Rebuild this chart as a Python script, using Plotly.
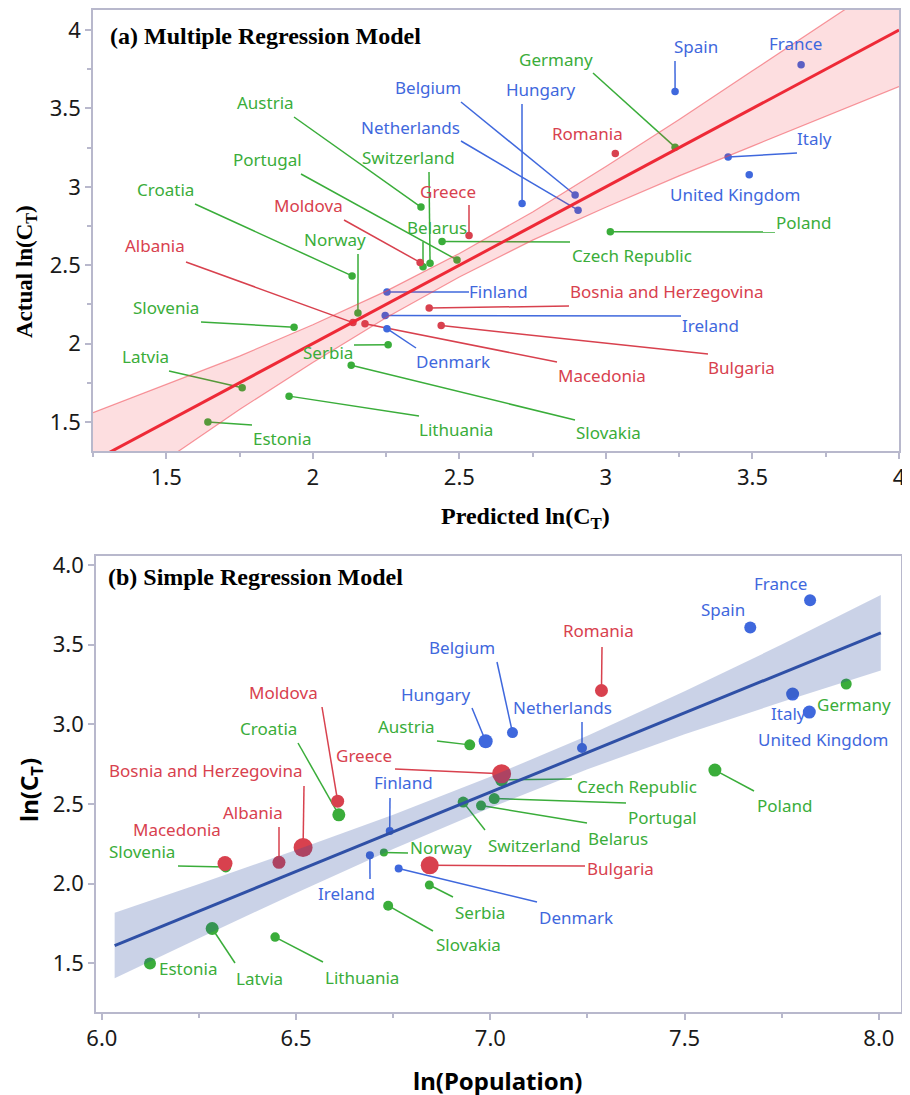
import plotly.graph_objects as go

W, H = 910, 1095
OFF = 8  # page body margin of the html page

# ---------------- data ----------------
countries = ["France", "Spain", "Germany", "Romania", "Italy", "United Kingdom",
             "Belgium", "Hungary", "Netherlands", "Poland", "Greece", "Austria",
             "Czech Republic", "Portugal", "Moldova", "Switzerland", "Belarus",
             "Norway", "Croatia", "Finland", "Bosnia and Herzegovina", "Ireland",
             "Albania", "Macedonia", "Bulgaria", "Denmark", "Serbia", "Slovenia",
             "Slovakia", "Latvia", "Lithuania", "Estonia"]
groups = ["B", "B", "G", "R", "B", "B",
          "B", "B", "B", "G", "R", "G",
          "G", "G", "R", "G", "G",
          "G", "G", "B", "R", "B",
          "R", "R", "R", "B", "G", "G",
          "G", "G", "G", "G"]
# panel (a): predicted ln(C_T)
predicted = [3.666, 3.236, 3.236, 3.032, 3.417, 3.489,
             2.895, 2.714, 2.905, 3.015, 2.533, 2.369,
             2.441, 2.492, 2.366, 2.400, 2.376,
             2.154, 2.134, 2.253, 2.397, 2.247,
             2.137, 2.178, 2.438, 2.253, 2.257, 1.936,
             2.131, 1.759, 1.919, 1.642]
# actual ln(C_T) (both panels)
ln_ct = [3.779, 3.608, 3.253, 3.212, 3.190, 3.077,
         2.948, 2.894, 2.851, 2.713, 2.690, 2.871,
         2.652, 2.534, 2.518, 2.512, 2.490,
         2.195, 2.432, 2.330, 2.227, 2.179,
         2.134, 2.127, 2.115, 2.095, 1.992, 2.105,
         1.862, 1.719, 1.665, 1.500]
# panel (b): ln(Population)
ln_pop = [7.823, 7.669, 7.916, 7.286, 7.778, 7.821,
          7.057, 6.988, 7.236, 7.578, 7.029, 6.947,
          7.029, 7.010, 6.607, 6.930, 6.976,
          6.726, 6.610, 6.741, 6.518, 6.690,
          6.456, 6.317, 6.844, 6.764, 6.843, 6.319,
          6.737, 6.284, 6.446, 6.124]
# bubble size variable in panel (b)
bubble = [12, 12, 11, 13, 13, 13,
          11, 14, 10, 13, 19, 11,
          13, 11, 13, 11, 10,
          8, 13, 8, 19, 8,
          13, 15, 18, 8, 9, 11,
          10, 13, 9.5, 12]

# fitted line + confidence band, panel (a)
fit_a_x = [1.25, 1.5, 1.75, 2.0, 2.25, 2.5, 2.75, 3.0, 3.25, 3.5, 3.75, 4.0]
fit_a_y = [1.25, 1.5, 1.75, 2.0, 2.25, 2.5, 2.75, 3.0, 3.25, 3.5, 3.75, 4.0]
fit_a_lo = [0.94, 1.26, 1.58, 1.88, 2.165, 2.425, 2.66, 2.87, 3.07, 3.26, 3.45, 3.64]
fit_a_hi = [1.56, 1.74, 1.92, 2.12, 2.335, 2.575, 2.84, 3.13, 3.43, 3.74, 4.05, 4.36]

# fitted line + confidence band, panel (b)
fit_b_x = [6.033, 6.25, 6.5, 6.75, 7.0, 7.25, 7.5, 7.75, 8.005]
fit_b_y = [1.612, 1.828, 2.077, 2.325, 2.574, 2.823, 3.072, 3.320, 3.574]
fit_b_lo = [1.406, 1.658, 1.942, 2.217, 2.477, 2.718, 2.937, 3.140, 3.337]
fit_b_hi = [1.818, 1.998, 2.212, 2.433, 2.671, 2.928, 3.207, 3.500, 3.811]

# ---------------- layout / styles ----------------
COL = {"B": "#3f68dd", "G": "#3aad3a", "R": "#d8414e"}
AXCOL = "#b8b8cc"
LABEL_FONT = "Noto Sans"
LABEL_SIZE = 17

PANEL_A = dict(L=93, R=899, T=10, B=451, x=(1.25, 4.0), y=(1.315, 4.128))
PANEL_B = dict(L=96, R=901, T=556, B=1012, x=(5.985, 8.057), y=(1.195, 4.056))

# label placement (screen pixels): text centre, leader-line end
LABELS_A = {
    "Spain": ((696, 47), (675, 61)),
    "France": ((795, 44), None),
    "Germany": ((556, 60), (593, 73)),
    "Belgium": ((428, 88), (461, 102)),
    "Hungary": ((541, 90), (522, 104)),
    "Netherlands": ((410, 128), (461, 141)),
    "Romania": ((587, 134), None),
    "Italy": ((814, 139), (797, 153)),
    "United Kingdom": ((735, 195), None),
    "Poland": ((803, 223), (775, 232)),
    "Austria": ((265, 103), (294, 117)),
    "Switzerland": ((408, 158), (429, 172)),
    "Portugal": ((267, 160), (301, 174)),
    "Greece": ((448, 192), (469, 205)),
    "Croatia": ((165, 190), (195, 204)),
    "Moldova": ((308, 206), (344, 220)),
    "Belarus": ((437, 228), (423, 242)),
    "Czech Republic": ((632, 256), (570, 242)),
    "Norway": ((335, 240), (358, 254)),
    "Albania": ((155, 246), (186, 262)),
    "Finland": ((498, 292), (469, 292)),
    "Bosnia and Herzegovina": ((667, 292), (569, 306)),
    "Ireland": ((710, 326), (681, 316)),
    "Bulgaria": ((741, 368), (708, 354)),
    "Macedonia": ((602, 376), (557, 362)),
    "Denmark": ((453, 362), (416, 348)),
    "Slovenia": ((166, 308), (201, 322)),
    "Serbia": ((328, 353), (354, 345)),
    "Latvia": ((145, 357), (169, 371)),
    "Slovakia": ((608, 433), (575, 420)),
    "Lithuania": ((456, 430), (419, 416)),
    "Estonia": ((282, 439), (252, 425)),
}
LABELS_B = {
    "France": ((780, 583), None),
    "Spain": ((723, 609), None),
    "Romania": ((598, 630), (602, 647)),
    "Belgium": ((462, 647), (497, 662)),
    "Netherlands": ((562, 707), (582, 722)),
    "Hungary": ((436, 694), (472, 708)),
    "Austria": ((406, 726), (437, 741)),
    "Greece": ((364, 755), (395, 769)),
    "Italy": ((788, 713), None),
    "Germany": ((854, 704), None),
    "United Kingdom": ((823, 739), None),
    "Czech Republic": ((637, 786), (572, 779)),
    "Poland": ((784, 805), (754, 791)),
    "Portugal": ((662, 817), (626, 803)),
    "Belarus": ((618, 838), (587, 823)),
    "Switzerland": ((534, 845), (485, 830)),
    "Norway": ((441, 847), (408, 853)),
    "Finland": ((403, 782), (390, 798)),
    "Ireland": ((346, 893), (370, 879)),
    "Bulgaria": ((620, 868), (585, 866)),
    "Denmark": ((576, 917), (537, 902)),
    "Serbia": ((480, 912), (453, 897)),
    "Slovakia": ((468, 944), (433, 931)),
    "Lithuania": ((362, 977), (323, 962)),
    "Latvia": ((259, 978), (235, 963)),
    "Estonia": ((188, 968), None),
    "Slovenia": ((142, 851), (178, 866)),
    "Macedonia": ((177, 829), None),
    "Albania": ((253, 812), (279, 827)),
    "Bosnia and Herzegovina": ((206, 770), (304, 786)),
    "Moldova": ((283, 692), (322, 707)),
    "Croatia": ((268, 728), (298, 743)),
}


def px2data(p, px, py):
    x0, x1 = p["x"]
    y0, y1 = p["y"]
    return (x0 + (px - p["L"]) / (p["R"] - p["L"]) * (x1 - x0),
            y1 - (py - p["T"]) / (p["B"] - p["T"]) * (y1 - y0))


def paper_x(px):
    return (px - OFF) / W


def paper_y(py):
    return 1 - (py - OFF) / H


fig = go.Figure()


def add_panel(xs, ys, labels, panel, xa, ya, sizes, fx, fy, flo, fhi,
              line_col, band_fill, band_edge):
    # leader lines
    for g in ["B", "G", "R"]:
        lx, ly = [], []
        for c, gg, x, y in zip(countries, groups, xs, ys):
            if gg != g:
                continue
            end = labels[c][1]
            if end is None:
                continue
            ex, ey = px2data(panel, *end)
            lx += [x, ex, None]
            ly += [y, ey, None]
        fig.add_trace(go.Scatter(x=lx, y=ly, mode="lines", xaxis=xa, yaxis=ya,
                                 line=dict(color=COL[g], width=1.5),
                                 hoverinfo="skip", showlegend=False))
    # points
    for g in ["B", "G", "R"]:
        idx = [i for i, gg in enumerate(groups) if gg == g]
        fig.add_trace(go.Scatter(
            x=[xs[i] for i in idx], y=[ys[i] for i in idx],
            mode="markers", xaxis=xa, yaxis=ya,
            marker=dict(color=COL[g],
                        size=[sizes[i] for i in idx] if isinstance(sizes, list) else sizes,
                        line=dict(width=0), opacity=1),
            text=[countries[i] for i in idx], showlegend=False))
    # band
    fig.add_trace(go.Scatter(x=fx + fx[::-1], y=fhi + flo[::-1], fill="toself",
                             fillcolor=band_fill, mode="lines",
                             line=dict(width=0, color=band_fill),
                             xaxis=xa, yaxis=ya, hoverinfo="skip", showlegend=False))
    if band_edge:
        for b in (flo, fhi):
            fig.add_trace(go.Scatter(x=fx, y=b, mode="lines", xaxis=xa, yaxis=ya,
                                     line=dict(color=band_edge, width=1.2),
                                     hoverinfo="skip", showlegend=False))
    fig.add_trace(go.Scatter(x=fx, y=fy, mode="lines", xaxis=xa, yaxis=ya,
                             line=dict(color=line_col, width=3),
                             hoverinfo="skip", showlegend=False))
    # text labels
    xr = "x" if xa == "x" else "x2"
    yr = "y" if ya == "y" else "y2"
    for c, g in zip(countries, groups):
        (tx, ty), _ = labels[c]
        dx, dy = px2data(panel, tx, ty)
        fig.add_annotation(x=dx, y=dy, xref=xr, yref=yr, text=c, showarrow=False,
                           xanchor="center", yanchor="middle",
                           font=dict(family=LABEL_FONT, size=LABEL_SIZE, color=COL[g]))


add_panel(predicted, ln_ct, LABELS_A, PANEL_A, "x", "y", 7.5,
          fit_a_x, fit_a_y, fit_a_lo, fit_a_hi,
          "#ee2a37", "rgba(240,50,60,0.16)", "rgba(240,70,80,0.55)")
add_panel(ln_pop, ln_ct, LABELS_B, PANEL_B, "x2", "y2", bubble,
          fit_b_x, fit_b_y, fit_b_lo, fit_b_hi,
          "#2f50a6", "rgba(45,75,160,0.25)", None)


def dom(p):
    return [paper_x(p["L"]), paper_x(p["R"])], [paper_y(p["B"]), paper_y(p["T"])]


tickfont = dict(family="Noto Sans", size=22, color="#1a1a1a")
common = dict(showline=True, linecolor=AXCOL, linewidth=1.5, mirror=True,
              ticks="outside", ticklen=6, tickcolor=AXCOL, tickwidth=1.5,
              showgrid=False, zeroline=False, tickfont=tickfont, automargin=False)
minor = dict(ticks="outside", ticklen=4, tickcolor=AXCOL, dtick=0.25, showgrid=False)

xdA, ydA = dom(PANEL_A)
xdB, ydB = dom(PANEL_B)
fig.update_layout(
    width=W, height=H, autosize=False,
    margin=dict(l=0, r=0, t=0, b=0, pad=0),
    paper_bgcolor="white", plot_bgcolor="white",
    showlegend=False,
    xaxis=dict(domain=xdA, range=list(PANEL_A["x"]), dtick=0.5, tick0=0,
               minor=minor, anchor="y", **common),
    yaxis=dict(domain=ydA, range=list(PANEL_A["y"]), dtick=0.5, tick0=0,
               minor=minor, anchor="x", **common),
    xaxis2=dict(domain=xdB, range=list(PANEL_B["x"]), dtick=0.5, tick0=0,
                tickformat=".1f", minor=minor, anchor="y2", **common),
    yaxis2=dict(domain=ydB, range=list(PANEL_B["y"]), dtick=0.5, tick0=0,
                tickformat=".1f", anchor="x2", **common),
)

serif = "Liberation Serif"


def text_at(px, py, txt, family, size, xanchor="center", angle=0):
    fig.add_annotation(x=paper_x(px), y=paper_y(py), xref="paper", yref="paper",
                       text=txt, showarrow=False, textangle=angle,
                       xanchor=xanchor, yanchor="middle",
                       font=dict(family=family, size=size, color="black"))


# panel titles
text_at(108, 36, "<b>(a) Multiple Regression Model</b>", serif, 24, "left")
text_at(106, 577, "<b>(b) Simple Regression Model</b>", serif, 24, "left")
# axis titles
text_at(525, 518, "<b>Predicted ln(C<sub>T</sub>)</b>", serif, 24)
text_at(26, 272, "<b>Actual ln(C<sub>T</sub>)</b>", serif, 23, angle=-90)
text_at(497, 1080, "<b>ln(Population)</b>", "Noto Sans", 24)
text_at(30, 790, "<b>ln(C<sub>T</sub>)</b>", "Noto Sans", 24, angle=-90)

fig.write_html("out.html")
